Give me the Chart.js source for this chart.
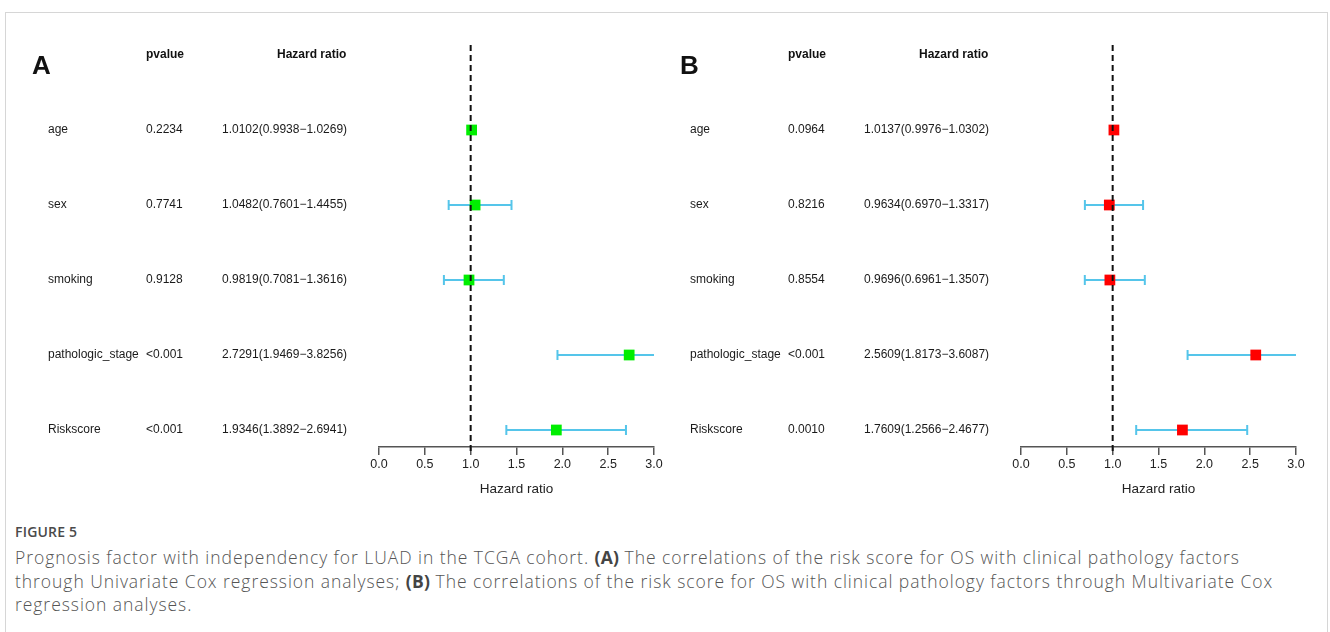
<!DOCTYPE html>
<html>
<head>
<meta charset="utf-8">
<script src="https://cdn.jsdelivr.net/npm/chart.js@4.4.0/dist/chart.umd.min.js"></script>
<style>
  html, body { margin: 0; padding: 0; background: #fff; width: 1330px; height: 632px; overflow: hidden; }
  #frame { position: absolute; left: 5px; top: 12px; width: 1321px; height: 700px; border: 1px solid #d6d6d6; }
  .panel { position: absolute; top: 0; width: 665px; height: 500px; }
  #caption { position: absolute; left: 15px; top: 522px; font-family: "Open Sans", sans-serif; color: #555; }
  #caption .fig { font-size: 14px; font-weight: 600; line-height: 20px; color: #4a4a4a; letter-spacing: 0.2px; }
  #caption .line { font-size: 17.5px; line-height: 23.5px; white-space: nowrap; letter-spacing: 0.95px; font-weight: 300; }
  #caption .fig + .line { margin-top: 4px; }
  #caption b { font-weight: 700; color: #444; letter-spacing: 0.2px; }
</style>
</head>
<body>
<div id="frame"></div>
<div class="panel" style="left:0px"><canvas id="chartA"></canvas></div>
<div class="panel" style="left:642px"><canvas id="chartB"></canvas></div>
<div id="caption">
  <div class="fig">FIGURE 5</div>
  <div class="line">Prognosis factor with independency for LUAD in the TCGA cohort. <b>(A)</b> The correlations of the risk score for OS with clinical pathology factors</div>
  <div class="line">through Univariate Cox regression analyses; <b>(B)</b> The correlations of the risk score for OS with clinical pathology factors through Multivariate Cox</div>
  <div class="line">regression analyses.</div>
</div>
<script>
// Clinical factors (one row each)
const variables = ['age', 'sex', 'smoking', 'pathologic_stage', 'Riskscore'];

// Univariate Cox regression
const pvalueUni = ['0.2234', '0.7741', '0.9128', '<0.001', '<0.001'];
const hrUni     = [1.0102, 1.0482, 0.9819, 2.7291, 1.9346];
const lowUni    = [0.9938, 0.7601, 0.7081, 1.9469, 1.3892];
const highUni   = [1.0269, 1.4455, 1.3616, 3.8256, 2.6941];

// Multivariate Cox regression
const pvalueMulti = ['0.0964', '0.8216', '0.8554', '<0.001', '0.0010'];
const hrMulti     = [1.0137, 0.9634, 0.9696, 2.5609, 1.7609];
const lowMulti    = [0.9976, 0.6970, 0.6961, 1.8173, 1.2566];
const highMulti   = [1.0302, 1.3317, 1.3507, 3.6087, 2.4677];

// Hazard-ratio axis
const axisMin = 0;
const axisMax = 3;
const axisStep = 0.5;

const FONT = '"Liberation Sans", Arial, sans-serif';

function fmt(v) { return v.toFixed(4); }

function forestPlugin(cfg) {
  return {
    id: 'forest',
    beforeDatasetsDraw(chart) {
      const { ctx, scales: { x, y } } = chart;
      ctx.save();
      ctx.strokeStyle = '#55c5ea';
      ctx.lineWidth = 2;
      cfg.low.forEach((lo, i) => {
        const hi = cfg.high[i];
        const yp = y.getPixelForValue(i);
        const xl = x.getPixelForValue(Math.max(lo, x.min));
        const xr = x.getPixelForValue(Math.min(hi, x.max));
        ctx.beginPath();
        ctx.moveTo(xl, yp); ctx.lineTo(xr, yp);
        if (lo >= x.min) { ctx.moveTo(xl, yp - 5); ctx.lineTo(xl, yp + 5); }
        if (hi <= x.max) { ctx.moveTo(xr, yp - 5); ctx.lineTo(xr, yp + 5); }
        ctx.stroke();
      });
      ctx.restore();
    },
    afterDatasetsDraw(chart) {
      const { ctx, chartArea: ca, scales: { x } } = chart;
      const x1 = x.getPixelForValue(1);
      ctx.save();
      ctx.strokeStyle = '#111';
      ctx.lineWidth = 2;
      ctx.setLineDash([6, 4]);
      ctx.beginPath();
      ctx.moveTo(x1, ca.top);
      ctx.lineTo(x1, ca.bottom + 7);
      ctx.stroke();
      ctx.restore();
    },
    afterDraw(chart) {
      const { ctx, scales: { y } } = chart;
      ctx.save();
      ctx.fillStyle = '#111';
      ctx.textBaseline = 'middle';
      ctx.textAlign = 'left';
      // panel letter
      ctx.font = 'bold 26px ' + FONT;
      ctx.fillText(cfg.letter, cfg.letterX, y.getPixelForValue(-0.84));
      // column headers
      ctx.font = 'bold 12px ' + FONT;
      const yh = y.getPixelForValue(-1);
      ctx.fillText('pvalue', 146, yh);
      ctx.fillText('Hazard ratio', 277, yh);
      // row texts
      ctx.font = '12px ' + FONT;
      ctx.fillStyle = '#1a1a1a';
      variables.forEach((name, i) => {
        const yp = y.getPixelForValue(i);
        ctx.fillText(name, 48, yp);
        ctx.fillText(cfg.pvalue[i], 146, yp);
        ctx.fillText(fmt(cfg.hr[i]) + '(' + fmt(cfg.low[i]) + '\u2212' + fmt(cfg.high[i]) + ')', 222, yp);
      });
      ctx.restore();
    }
  };
}

function makeChart(id, cfg) {
  return new Chart(document.getElementById(id), {
    type: 'scatter',
    data: {
      datasets: [{
        data: cfg.hr.map((v, i) => ({ x: v, y: i })),
        pointStyle: 'rect',
        pointRadius: 7.6,
        pointHoverRadius: 7.6,
        borderWidth: 0,
        backgroundColor: cfg.color,
        borderColor: cfg.color
      }]
    },
    options: {
      responsive: true,
      maintainAspectRatio: false,
      animation: false,
      events: [],
      layout: { padding: { left: 379, right: 11, top: 45, bottom: 0 } },
      plugins: { legend: { display: false }, tooltip: { enabled: false } },
      scales: {
        x: {
          type: 'linear',
          min: axisMin,
          max: axisMax,
          afterFit(scale) { scale.height = 53; },
          ticks: {
            stepSize: axisStep,
            padding: 2,
            color: '#222',
            font: { family: FONT, size: 12.5 },
            callback: v => v.toFixed(1)
          },
          grid: { display: true, drawOnChartArea: false, drawTicks: true, tickLength: 8, color: '#555', lineWidth: 1.5 },
          border: { display: true, color: '#555', width: 1.5 },
          title: {
            display: true,
            text: 'Hazard ratio',
            color: '#222',
            font: { family: FONT, size: 13.5 },
            padding: { top: 4, bottom: 3 }
          }
        },
        y: {
          type: 'linear',
          display: false,
          reverse: true,
          min: -1.1333,
          max: 4.2267
        }
      }
    },
    plugins: [forestPlugin(cfg)]
  });
}

makeChart('chartA', {
  letter: 'A', letterX: 32, color: '#00ee00',
  pvalue: pvalueUni, hr: hrUni, low: lowUni, high: highUni
});
makeChart('chartB', {
  letter: 'B', letterX: 38, color: '#ff0000',
  pvalue: pvalueMulti, hr: hrMulti, low: lowMulti, high: highMulti
});
</script>
</body>
</html>
